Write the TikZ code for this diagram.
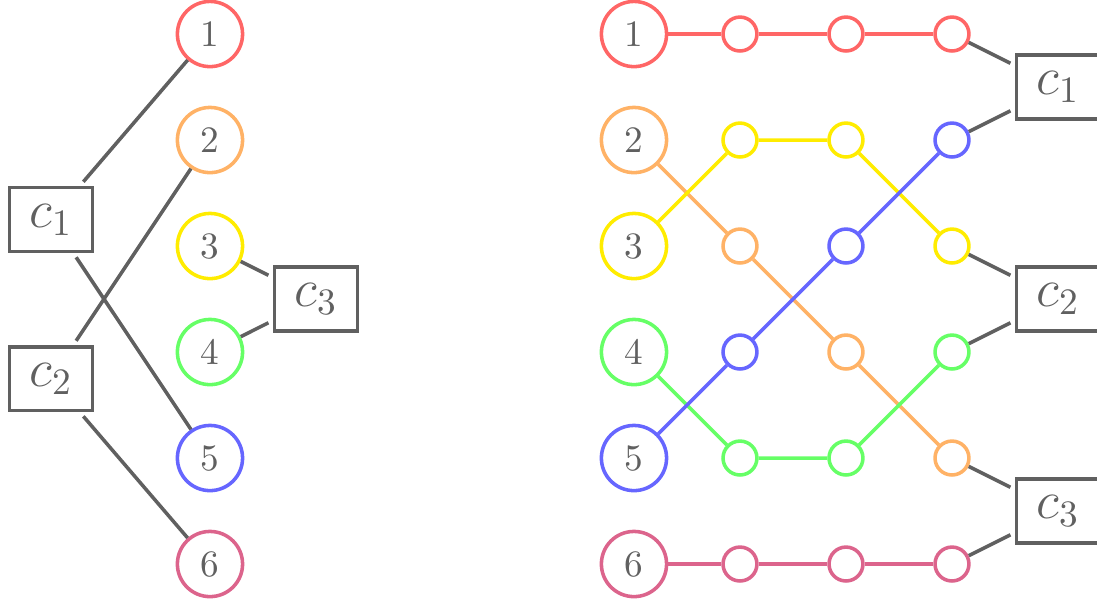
\documentclass[tikz,border=0pt]{standalone}
\usetikzlibrary{positioning}
\definecolor{cgray}{RGB}{96,96,96}
\definecolor{cred}{RGB}{255,102,102}
\definecolor{corange}{RGB}{255,178,102}
\definecolor{cyellow}{RGB}{255,236,0}
\definecolor{cgreen}{RGB}{102,255,102}
\definecolor{cblue}{RGB}{102,102,255}
\definecolor{cpink}{RGB}{220,100,140}
\tikzset{
  lw/.style={line width=0.95pt},
  bignode/.style={circle, draw=#1, lw, minimum size=0.615cm, inner sep=0pt, text=cgray, fill=white},
  smallnode/.style={circle, draw=#1, lw, minimum size=0.32cm, inner sep=0pt, fill=white},
  cbox/.style={rectangle, draw=cgray, lw, minimum width=0.785cm, minimum height=0.6cm, inner sep=0pt, outer sep=1.6pt, text=cgray, font=\Large},
  gline/.style={draw=cgray, lw},
  cline/.style={draw=#1, lw},
}
\begin{document}
\begin{tikzpicture}
\useasboundingbox (-1.981,0.321) rectangle (8.368,-5.340);
% ---- left graph ----
\node[bignode=cred]    (L1) at (0,0)  {1};
\node[bignode=corange] (L2) at (0,-1) {2};
\node[bignode=cyellow] (L3) at (0,-2) {3};
\node[bignode=cgreen]  (L4) at (0,-3) {4};
\node[bignode=cblue]   (L5) at (0,-4) {5};
\node[bignode=cpink]   (L6) at (0,-5) {6};
\node[cbox] (LC1) at (-1.5,-1.75) {$c_1$};
\node[cbox] (LC2) at (-1.5,-3.25) {$c_2$};
\node[cbox] (LC3) at (1,-2.5) {$c_3$};
\draw[gline] (LC1) -- (L1);
\draw[gline] (LC1) -- (L5);
\draw[gline] (LC2) -- (L2);
\draw[gline] (LC2) -- (L6);
\draw[gline] (LC3) -- (L3);
\draw[gline] (LC3) -- (L4);
% ---- right graph ----
\node[bignode=cred]    (R1) at (4,0)  {1};
\node[bignode=corange] (R2) at (4,-1) {2};
\node[bignode=cyellow] (R3) at (4,-2) {3};
\node[bignode=cgreen]  (R4) at (4,-3) {4};
\node[bignode=cblue]   (R5) at (4,-4) {5};
\node[bignode=cpink]   (R6) at (4,-5) {6};
\node[cbox] (RC1) at (8,-0.5) {$c_1$};
\node[cbox] (RC2) at (8,-2.5) {$c_2$};
\node[cbox] (RC3) at (8,-4.5) {$c_3$};
% small nodes: s<col><row>
\node[smallnode=cred]    (s50) at (5,0) {};
\node[smallnode=cred]    (s60) at (6,0) {};
\node[smallnode=cred]    (s70) at (7,0) {};
\node[smallnode=cyellow] (s51) at (5,-1) {};
\node[smallnode=cyellow] (s61) at (6,-1) {};
\node[smallnode=cblue]   (s71) at (7,-1) {};
\node[smallnode=corange] (s52) at (5,-2) {};
\node[smallnode=cblue]   (s62) at (6,-2) {};
\node[smallnode=cyellow] (s72) at (7,-2) {};
\node[smallnode=cblue]   (s53) at (5,-3) {};
\node[smallnode=corange] (s63) at (6,-3) {};
\node[smallnode=cgreen]  (s73) at (7,-3) {};
\node[smallnode=cgreen]  (s54) at (5,-4) {};
\node[smallnode=cgreen]  (s64) at (6,-4) {};
\node[smallnode=corange] (s74) at (7,-4) {};
\node[smallnode=cpink]   (s55) at (5,-5) {};
\node[smallnode=cpink]   (s65) at (6,-5) {};
\node[smallnode=cpink]   (s75) at (7,-5) {};
% colored paths
\draw[cline=cred]    (R1) -- (s50) -- (s60) -- (s70);
\draw[cline=cpink]   (R6) -- (s55) -- (s65) -- (s75);
\draw[cline=corange] (R2) -- (s52) -- (s63) -- (s74);
\draw[cline=cyellow] (R3) -- (s51) -- (s61) -- (s72);
\draw[cline=cgreen]  (R4) -- (s54) -- (s64) -- (s73);
\draw[cline=cblue]   (R5) -- (s53) -- (s62) -- (s71);
% gray connectors to boxes
\draw[gline] (s70) -- (RC1);
\draw[gline] (s71) -- (RC1);
\draw[gline] (s72) -- (RC2);
\draw[gline] (s73) -- (RC2);
\draw[gline] (s74) -- (RC3);
\draw[gline] (s75) -- (RC3);
\end{tikzpicture}
\end{document}
